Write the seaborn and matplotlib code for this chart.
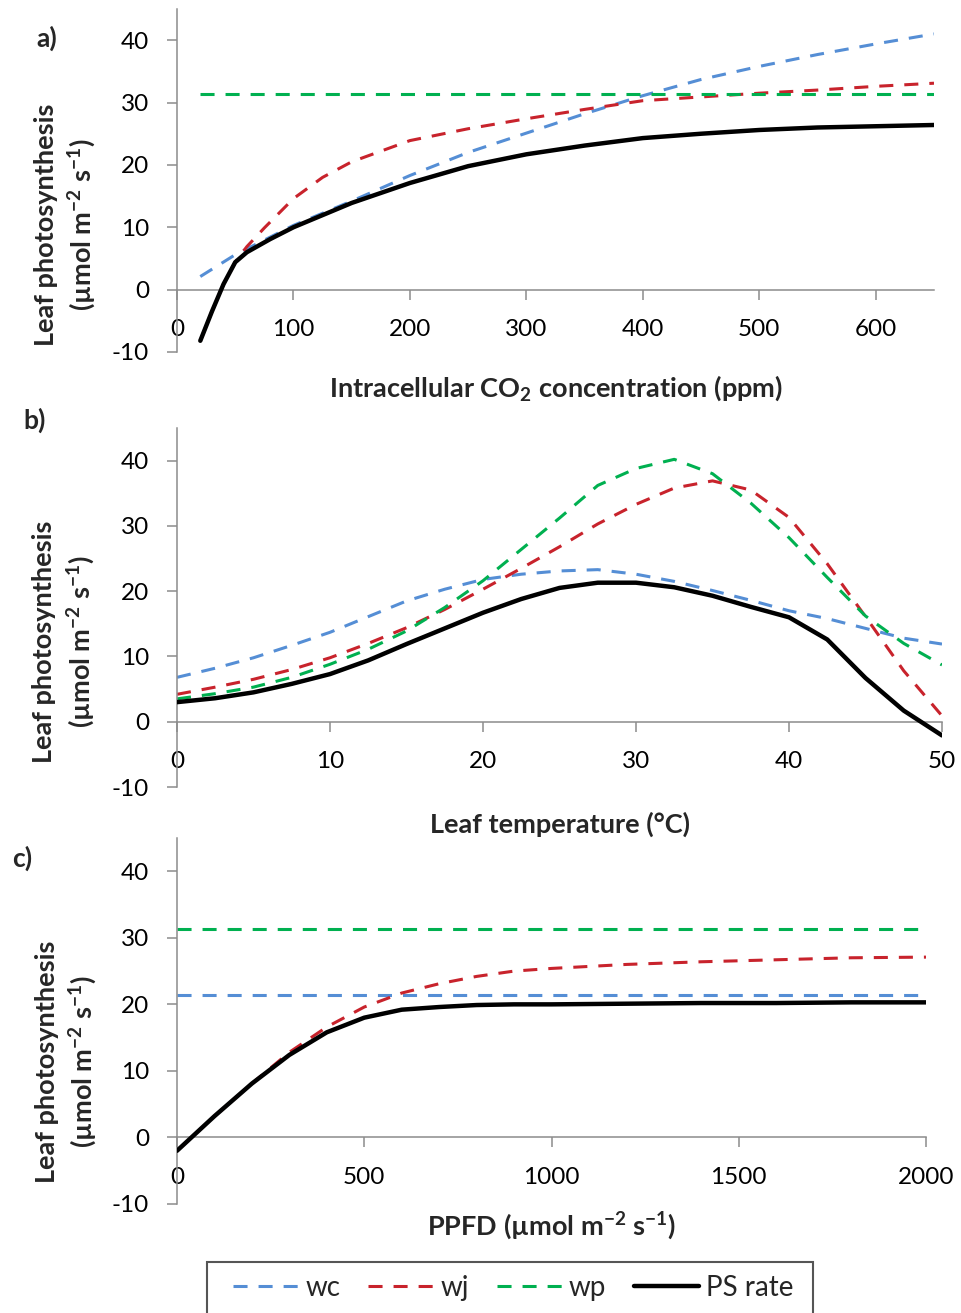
import matplotlib
matplotlib.use("Agg")
import matplotlib.pyplot as plt
from matplotlib.patches import Rectangle
import numpy as np
import pandas as pd
import seaborn as sns

sns.set_style("ticks")
plt.rcParams["font.family"] = ["Lato", "DejaVu Sans"]
plt.rcParams["mathtext.fontset"] = "custom"
plt.rcParams["mathtext.rm"] = "Lato"
plt.rcParams["mathtext.bf"] = "Lato:bold"
plt.rcParams["axes.unicode_minus"] = False

# a) response to intracellular CO2 (ppm)
co2_wc_x = [20, 50, 100, 150, 200, 250, 300, 350, 400, 450, 500, 550, 600, 650]
co2_wc_y = [2.1, 5.6, 10.3, 14.2, 18.3, 22.0, 25.1, 28.2, 31.1, 33.7, 35.8, 37.7, 39.4, 41.0]
co2_wj_x = [20, 30, 40, 50, 60, 75, 100, 125, 150, 200, 250, 300, 350, 400, 450, 500, 550, 600, 650]
co2_wj_y = [-8.2, -3.5, 0.9, 4.4, 6.9, 9.9, 14.6, 18.0, 20.5, 23.9, 25.8, 27.4, 28.9, 30.3, 30.9, 31.5, 32.0, 32.6, 33.1]
co2_wp_x = [20, 650]
co2_wp_y = [31.3, 31.3]
co2_ps_x = [20, 30, 40, 50, 60, 80, 100, 150, 200, 250, 300, 350, 400, 450, 500, 550, 600, 650]
co2_ps_y = [-8.2, -3.5, 0.9, 4.4, 6.0, 8.1, 10.0, 13.9, 17.1, 19.8, 21.7, 23.1, 24.3, 25.0, 25.6, 26.0, 26.2, 26.4]

# b) response to leaf temperature (C)
temp_x = [0, 2.5, 5, 7.5, 10, 12.5, 15, 17.5, 20, 22.5, 25, 27.5, 30, 32.5, 35, 37.5, 40, 42.5, 45, 47.5, 50]
temp_wc = [6.8, 8.2, 9.8, 11.7, 13.7, 16.1, 18.5, 20.3, 21.8, 22.6, 23.1, 23.3, 22.6, 21.5, 20.1, 18.6, 17.0, 15.8, 14.3, 12.8, 11.9]
temp_wj = [4.2, 5.3, 6.5, 8.0, 9.8, 12.0, 14.4, 17.2, 20.3, 23.5, 26.8, 30.3, 33.3, 35.8, 36.9, 35.5, 31.3, 24.2, 16.1, 7.8, 0.9]
temp_wp = [3.5, 4.3, 5.3, 6.8, 8.8, 11.1, 13.9, 17.5, 21.6, 26.4, 31.2, 36.2, 38.8, 40.2, 38.0, 33.5, 28.2, 22.1, 16.2, 12.0, 8.7]
temp_ps = [3.0, 3.6, 4.5, 5.8, 7.3, 9.4, 11.9, 14.3, 16.7, 18.8, 20.5, 21.3, 21.3, 20.6, 19.3, 17.6, 16.0, 12.6, 6.7, 1.7, -2.1]

# c) response to PPFD
ppfd_x = [0, 100, 200, 300, 400, 500, 600, 700, 800, 900, 1000, 1200, 1400, 1600, 1800, 2000]
ppfd_wj = [-2.0, 3.2, 8.1, 12.8, 16.6, 19.6, 21.7, 23.1, 24.2, 25.0, 25.4, 26.0, 26.4, 26.7, 27.0, 27.1]
ppfd_ps = [-2.0, 3.2, 8.1, 12.4, 15.8, 18.0, 19.2, 19.6, 19.9, 20.0, 20.0, 20.1, 20.2, 20.2, 20.3, 20.3]
ppfd_flat_x = [0, 2000]
ppfd_wc = [21.4, 21.4]
ppfd_wp = [31.3, 31.3]

series_names = ["wc", "wj", "wp", "PS rate"]
colors = {"wc": "#558ED5", "wj": "#C8232C", "wp": "#00B050", "PS rate": "#000000"}
dash = (0, (4.6, 3.6))
grey = "#8c8c8c"

fig = plt.figure(figsize=(9.61, 13.13), dpi=100)
W, H = 961, 1313


def px_axes(l, t, r, b):
    ax = fig.add_axes([l / W, 1 - b / H, (r - l) / W, (b - t) / H])
    ax.patch.set_alpha(0)
    return ax


ax_a = px_axes(177, 9, 934, 352)
ax_b = px_axes(177, 428, 942, 787)
ax_c = px_axes(177, 838, 926, 1204)


def draw(ax, data):
    for name in series_names:
        xs, ys = data[name]
        df = pd.DataFrame({"x": xs, "y": ys})
        if name == "PS rate":
            sns.lineplot(data=df, x="x", y="y", ax=ax, color=colors[name],
                         lw=3.2, label=name, legend=False, zorder=5)
        else:
            sns.lineplot(data=df, x="x", y="y", ax=ax, color=colors[name],
                         lw=2.2, linestyle=dash, label=name, legend=False)


draw(ax_a, {"wc": (co2_wc_x, co2_wc_y), "wj": (co2_wj_x, co2_wj_y),
            "wp": (co2_wp_x, co2_wp_y), "PS rate": (co2_ps_x, co2_ps_y)})
draw(ax_b, {"wc": (temp_x, temp_wc), "wj": (temp_x, temp_wj),
            "wp": (temp_x, temp_wp), "PS rate": (temp_x, temp_ps)})
draw(ax_c, {"wc": (ppfd_flat_x, ppfd_wc), "wj": (ppfd_x, ppfd_wj),
            "wp": (ppfd_flat_x, ppfd_wp), "PS rate": (ppfd_x, ppfd_ps)})

ylab = "Leaf photosynthesis\n(µmol m$^{\\mathbf{-2}}$ s$^{\\mathbf{-1}}$)"


def style(ax, xmax, xstep, xlabel, ylab_y, xlab_y):
    ax.set_xlim(0, xmax)
    ax.set_ylim(-10, 45)
    ax.set_xticks(np.arange(0, xmax + 1, xstep))
    ax.set_yticks(range(-10, 41, 10))
    ax.spines["top"].set_visible(False)
    ax.spines["right"].set_visible(False)
    ax.spines["bottom"].set_position(("data", 0))
    for s in ["left", "bottom"]:
        ax.spines[s].set_color(grey)
        ax.spines[s].set_linewidth(1.1)
    ax.tick_params(axis="both", direction="out", length=7.2, width=1.1,
                   color=grey, labelsize=17.5, labelcolor="black")
    ax.tick_params(axis="x", pad=14)
    ax.tick_params(axis="y", pad=13)
    ax.set_xlabel(xlabel, fontsize=19.5, fontweight="bold", va="center")
    ax.xaxis.set_label_coords(0.5, xlab_y)
    ax.set_ylabel(ylab, fontsize=19.5, fontweight="bold", linespacing=1.3,
                  va="center")
    ax.yaxis.set_label_coords(-0.147, ylab_y)


style(ax_a, 650, 100, "Intracellular CO$_\\mathbf{2}$ concentration (ppm)", 0.37, -0.105)
style(ax_b, 50, 10, "Leaf temperature (°C)", 0.404, -0.103)
style(ax_c, 2000, 500, "PPFD (µmol m$^{\\mathbf{-2}}$ s$^{\\mathbf{-1}}$)", 0.388, -0.06)

fig.text(47 / W, 1 - 38 / H, "a)", fontsize=19, fontweight="bold", ha="center", va="center")
fig.text(35 / W, 1 - 420 / H, "b)", fontsize=19, fontweight="bold", ha="center", va="center")
fig.text(22 / W, 1 - 858 / H, "c)", fontsize=19, fontweight="bold", ha="center", va="center")

# legend row, with an Excel-like box that runs off the bottom of the figure
handles, labels = ax_c.get_legend_handles_labels()
fig.legend(handles, labels, loc="center left", ncol=4,
           bbox_to_anchor=(233 / W, 1 - 1288 / H), fontsize=20,
           frameon=False, handlelength=2.35, handletextpad=0.25,
           columnspacing=1.0, borderpad=0, borderaxespad=0)
fig.patches.append(Rectangle((207 / W, -0.02), (813 - 207) / W, 0.02 + 1 - 1262 / H,
                             transform=fig.transFigure, fill=False,
                             edgecolor="#555555", lw=1.5))

fig.savefig("out.png", dpi=100)
